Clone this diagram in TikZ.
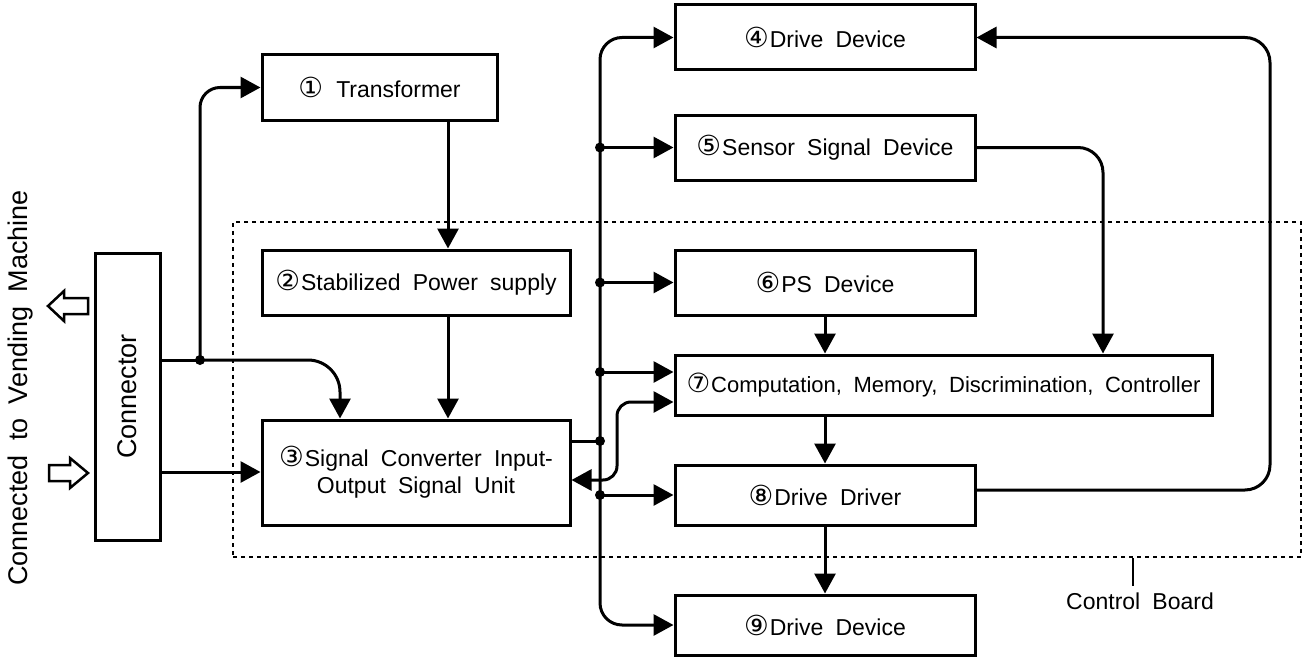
\documentclass[tikz,border=0pt]{standalone}
\usepackage{fontspec}
\setmainfont{Liberation Sans}[WordSpace=1.9]
\newfontfamily\circfont{DejaVu Sans}[Scale=1.2]
\usetikzlibrary{arrows.meta,calc}
\newcommand{\cnum}[1]{{\circfont #1}\hspace{1pt}}
\begin{document}
\begin{tikzpicture}[x=1pt,y=-1pt,
  box/.style={draw, line width=3pt, rectangle, inner sep=0pt, align=center,
    font=\fontsize{23}{27}\selectfont},
  link/.style={line width=3pt, -{Triangle[length=20pt,width=21pt]}},
  both/.style={line width=3pt, {Triangle[length=20pt,width=21pt]}-{Triangle[length=20pt,width=21pt]}},
  plain/.style={line width=3pt},
  boardbox/.style={draw, line width=2pt, dash pattern=on 4pt off 4pt, inner sep=0pt},
  hollow/.style={draw, line width=2.5pt, line join=miter},
  lbl/.style={font=\fontsize{23}{27}\selectfont},
  biglbl/.style={font=\fontsize{27}{31}\selectfont}]
\useasboundingbox (0,0) rectangle (1312,661);

% control board region
\node[boardbox, minimum width=1068pt, minimum height=335pt] (board) at (767,389.5) {};

% boxes
\node[box, minimum width=65pt, minimum height=287pt,
  label={[rotate=90, biglbl]center:Connector}] (conn) at (127.5,396.5) {};
\node[box, minimum width=235pt, minimum height=65pt] (t1) at (379.5,87.5) {\cnum{①} Transformer};
\node[box, minimum width=308pt, minimum height=65pt] (t2) at (416,282.5) {\cnum{②}Stabilized Power supply};
\node[box, minimum width=308pt, minimum height=105pt] (t3) at (416,472.5) {\cnum{③}Signal Converter Input-\\Output Signal Unit};
\node[box, minimum width=300pt, minimum height=65pt] (t4) at (825,37.5) {\cnum{④}Drive Device};
\node[box, minimum width=300pt, minimum height=65pt] (t5) at (825,147.5) {\cnum{⑤}Sensor Signal Device};
\node[box, minimum width=300pt, minimum height=65pt] (t6) at (825,282.5) {\cnum{⑥}PS Device};
\node[box, minimum width=537pt, minimum height=60pt, font=\fontsize{22}{26}\selectfont] (t7) at (943.5,385) {\cnum{⑦}Computation, Memory, Discrimination, Controller};
\node[box, minimum width=300pt, minimum height=60pt] (t8) at (825,495) {\cnum{⑧}Drive Driver};
\node[box, minimum width=300pt, minimum height=60pt] (t9) at (825,625) {\cnum{⑨}Drive Device};

% labels
\node[biglbl, rotate=90] (vm) at (21,388) {Connected to Vending Machine};
\node[lbl] (cb) at (1140,601) {Control Board};
\draw[line width=2pt] ([xshift=366pt]board.south) -- ++(0,28);

% hollow arrows
\draw[hollow] (48,306) -- (64,291) -- (64,298) -- (88,298) -- (88,314) -- (64,314) -- (64,321) -- cycle;
\draw[hollow] (88,473) -- (70,458) -- (70,465) -- (49,465) -- (49,481) -- (70,481) -- (70,488) -- cycle;

% connector links
\coordinate (ca) at ([yshift=36.5pt]conn.east);
\coordinate (cb2) at ([yshift=-75.5pt]conn.east);
\coordinate (j1) at (200,360);
\draw[plain] (ca) -- (j1);
\draw[link, rounded corners=20pt] (j1) |- (t1.west);
\draw[link, rounded corners=32pt] (j1) -| ([xshift=-76pt]t3.north);
\draw[link] (cb2) -- (t3.west |- cb2);
\fill (j1) circle (5pt);

% power chain
\coordinate (vx) at (448,0);
\draw[link] (t1.south -| vx) -- (t2.north -| vx);
\draw[link] (t2.south -| vx) -- (t3.north -| vx);

% bus
\coordinate (bus) at (600,300);
\draw[both, rounded corners=22pt] (t9.west) -| (bus) |- (t4.west);
\draw[link] (bus |- t5.west) -- (t5.west);
\fill (bus |- t5.west) circle (5pt);
\draw[link] (bus |- t6.west) -- (t6.west);
\fill (bus |- t6.west) circle (5pt);
\coordinate (t7a) at ([yshift=13pt]t7.west);
\draw[link] (bus |- t7a) -- (t7a);
\fill (bus |- t7a) circle (5pt);
\coordinate (t3a) at ([yshift=31.5pt]t3.east);
\draw[plain] (t3a) -- (bus |- t3a);
\fill (bus |- t3a) circle (5pt);
\draw[link] (bus |- t8.west) -- (t8.west);
\fill (bus |- t8.west) circle (5pt);

% 3 <-> 7
\coordinate (t3b) at ([yshift=-7.5pt]t3.east);
\coordinate (t7b) at ([yshift=-17pt]t7.west);
\coordinate (mid) at (617,440);
\draw[both, rounded corners=14pt] (t3b) -| (mid) |- (t7b);

% right side
\draw[link] (t6.south) -- (t6.south |- t7.north);
\draw[link, rounded corners=25pt] (t5.east) -| ([xshift=159.5pt]t7.north);
\draw[link] (t8.north |- t7.south) -- (t8.north);
\draw[link] (t8.south) -- (t9.north);
\draw[link, rounded corners=25pt] ([yshift=5pt]t8.east) -| (1270,300) |- (t4.east);
\end{tikzpicture}
\end{document}
